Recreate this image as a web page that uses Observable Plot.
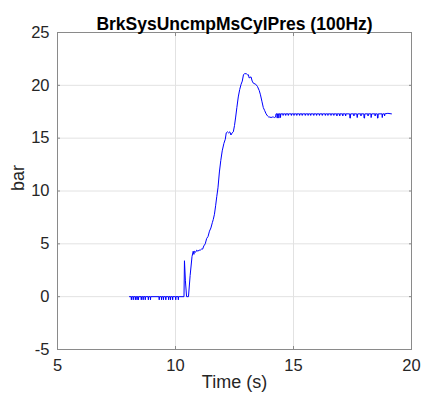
<!DOCTYPE html>
<html>
<head>
<meta charset="utf-8">
<script src="https://cdn.jsdelivr.net/npm/d3@7"></script>
<script src="https://cdn.jsdelivr.net/npm/@observablehq/plot@0.6"></script>
<style>
  html, body { margin: 0; padding: 0; background: #fff; }
</style>
</head>
<body>
<div id="chart"></div>
<script>
const chartTitle = "BrkSysUncmpMsCylPres (100Hz)";
const xLabel = "Time (s)";
const yLabel = "bar";
const xTicks = [5, 10, 15, 20];
const yTicks = [-5, 0, 5, 10, 15, 20, 25];

// idle segment: 0 bar with small negative dithering ticks
const idleSeg = [
  [8.05,0],[8.12,0],[8.13,-0.3],[8.14,0],[8.20,0],[8.21,-0.3],[8.22,0],[8.29,0],[8.30,-0.3],[8.31,0],
  [8.36,0],[8.37,-0.3],[8.38,0],[8.42,0],[8.43,-0.3],[8.44,0],[8.54,0],[8.55,-0.3],[8.56,0],
  [8.62,0],[8.63,-0.3],[8.64,0],[8.71,0],[8.72,-0.3],[8.73,0],[8.84,0],[8.85,-0.3],[8.86,0],
  [8.93,0],[8.94,-0.3],[8.95,0],[9.30,0],[9.31,-0.3],[9.32,0],[9.40,0],[9.41,-0.3],[9.42,0],
  [9.48,0],[9.49,-0.3],[9.50,0],[9.58,0],[9.59,-0.3],[9.60,0],[9.70,0],[9.71,-0.3],[9.72,0],
  [9.78,0],[9.79,-0.3],[9.80,0],[9.87,0],[9.88,-0.3],[9.89,0],[10.00,0],[10.01,-0.3],[10.02,0],
  [10.11,0],[10.12,-0.3],[10.13,0],[10.36,0]
];

// apply segment: spike, ramp, overshoot, settle
const applySeg = [
  [10.38,3.4],[10.42,1.5],[10.47,0],[10.55,0],[10.62,2.0],[10.70,3.8],[10.75,4.3],[10.78,4.0],
  [10.80,4.3],[10.85,4.2],[10.90,4.4],[10.95,4.3],[11.00,4.4],[11.05,4.4],[11.10,4.5],[11.15,4.5],
  [11.20,4.8],[11.26,5.0],[11.32,5.5],[11.38,5.7],[11.44,6.2],[11.50,6.5],[11.56,7.0],[11.60,7.3],
  [11.65,7.8],[11.70,8.6],[11.75,9.5],[11.80,10.3],[11.86,11.8],[11.92,12.9],[11.98,13.8],
  [12.05,14.5],[12.11,14.9],[12.15,15.5],[12.20,15.6],[12.25,15.5],[12.30,15.6],[12.35,15.3],
  [12.40,15.5],[12.45,15.6],[12.50,16.2],[12.55,17.0],[12.60,17.9],[12.66,18.9],[12.72,19.6],
  [12.78,20.1],[12.83,20.4],[12.88,21.0],[12.92,21.1],[13.00,21.1],[13.05,21.0],[13.09,21.0],
  [13.12,20.7],[13.20,20.8],[13.25,20.4],[13.30,20.2],[13.40,20.1],[13.47,19.9],[13.55,19.5],
  [13.60,19.1],[13.66,18.5],[13.72,17.9],[13.78,17.6],[13.84,17.3],[13.90,17.1],[13.95,17.0],
  [14.00,17.0],[14.05,16.95],[14.10,17.0],[14.15,17.0],[14.20,16.95],[14.24,17.0]
];

// hold segment: ~17.3 bar with small dithering
const holdSeg = [
  [14.26,17.3],[14.30,17.3],[14.31,16.9],[14.32,17.3],[14.37,17.3],[14.38,16.9],[14.39,17.3],
  [14.44,17.3],[14.45,16.95],[14.46,17.3],[14.55,17.3],[14.56,17.15],[14.57,17.3],[14.66,17.3],
  [14.67,17.15],[14.68,17.3],[14.77,17.3],[14.78,17.15],[14.79,17.3],[14.90,17.3],[14.91,17.15],
  [14.92,17.3],[15.01,17.3],[15.02,17.15],[15.03,17.3],[15.13,17.3],[15.14,17.15],[15.15,17.3],
  [15.25,17.3],[15.26,17.15],[15.27,17.3],[15.36,17.3],[15.37,17.15],[15.38,17.3],[15.49,17.3],
  [15.50,17.15],[15.51,17.3],[15.61,17.3],[15.62,17.15],[15.63,17.3],[15.72,17.3],[15.73,17.15],
  [15.74,17.3],[15.85,17.3],[15.86,17.15],[15.87,17.3],[15.97,17.3],[15.98,17.15],[15.99,17.3],
  [16.09,17.3],[16.10,17.15],[16.11,17.3],[16.21,17.3],[16.22,17.15],[16.23,17.3],[16.34,17.3],
  [16.35,17.15],[16.36,17.3],[16.45,17.3],[16.46,17.15],[16.47,17.3],[16.58,17.3],[16.59,17.15],
  [16.60,17.3],[16.70,17.3],[16.71,17.15],[16.72,17.3],[16.83,17.3],[16.84,17.1],[16.85,17.3],
  [16.95,17.3],[16.96,17.1],[16.97,17.3],[17.08,17.3],[17.09,17.1],[17.10,17.3],[17.20,17.3],
  [17.21,17.1],[17.22,17.3],[17.38,17.3],[17.39,16.9],[17.41,16.9],[17.42,17.3],[17.55,17.3],
  [17.56,17.1],[17.57,17.3],[17.68,17.3],[17.70,16.95],[17.72,17.3],[17.85,17.3],[17.86,17.1],
  [17.87,17.3],[17.98,17.3],[17.99,16.9],[18.01,16.9],[18.02,17.3],[18.15,17.3],[18.16,17.1],
  [18.17,17.3],[18.28,17.3],[18.29,16.95],[18.31,17.3],[18.45,17.3],[18.46,17.1],[18.47,17.3],
  [18.55,17.3],[18.56,16.9],[18.58,16.9],[18.59,17.3],[18.75,17.3],[18.76,16.95],[18.78,17.3],
  [18.85,17.3],[18.86,17.1],[18.87,17.3],[19.00,17.35],[19.15,17.3]
];

const series = [...idleSeg, ...applySeg, ...holdSeg].map(([t, v]) => ({t, v}));

const font = "'Liberation Sans', Arial, Helvetica, sans-serif";
const ink = "#262626";
const frameInk = "#8a8a8a";

const chart = Plot.plot({
  width: 421,
  height: 402,
  marginLeft: 57,
  marginRight: 10,
  marginTop: 32,
  marginBottom: 53,
  x: {domain: [5, 20], label: null},
  y: {domain: [-5, 25], label: null},
  style: {fontFamily: font, fontSize: "16px", color: ink, background: "#fff"},
  marks: [
    Plot.gridX(xTicks, {stroke: "#e2e2e2", strokeOpacity: 1}),
    Plot.gridY(yTicks, {stroke: "#e2e2e2", strokeOpacity: 1}),
    Plot.line(series, {x: "t", y: "v", stroke: "#0000ff", strokeWidth: 1}),
    Plot.frame({stroke: frameInk, strokeOpacity: 1}),
    Plot.axisX(xTicks, {anchor: "bottom", tickSize: -3, text: null, stroke: frameInk}),
    Plot.axisX(xTicks, {anchor: "top", tickSize: -3, text: null, stroke: frameInk}),
    Plot.axisY(yTicks, {anchor: "left", tickSize: -3, text: null, stroke: frameInk}),
    Plot.axisY(yTicks, {anchor: "right", tickSize: -3, text: null, stroke: frameInk}),
    Plot.axisX(xTicks, {anchor: "bottom", tickSize: 0, tickPadding: 10, fontSize: 16.5, fill: ink, label: null, tickFormat: d => String(d)}),
    Plot.axisY(yTicks, {anchor: "left", tickSize: 0, tickPadding: 8, fontSize: 16.5, fill: ink, label: null, tickFormat: d => String(d)}),
    Plot.text([chartTitle], {text: d => d, frameAnchor: "top", dy: -15, fontWeight: "bold", fontSize: 17.5, fill: "#000"}),
    Plot.text([xLabel], {text: d => d, frameAnchor: "bottom", dy: 38, fontSize: 18, fill: ink}),
    Plot.text([yLabel], {text: d => d, frameAnchor: "left", dx: -39, rotate: -90, fontSize: 18, fill: ink})
  ]
});
document.getElementById("chart").append(chart);
</script>
</body>
</html>
